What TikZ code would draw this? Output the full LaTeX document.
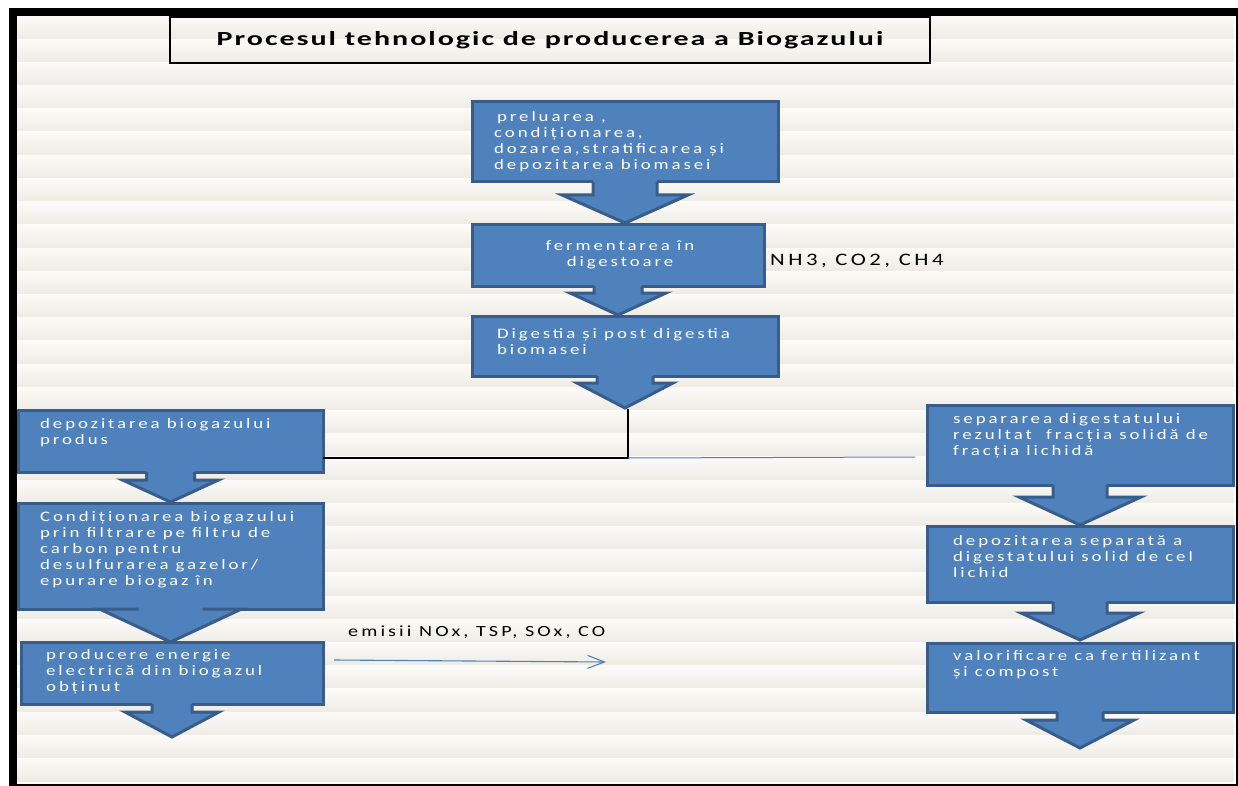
\documentclass[tikz,border=0pt]{standalone}
\usepackage{fontspec}
\setmainfont{Carlito}
\newfontfamily\boxfont[FakeStretch=1.3,LetterSpace=20]{Carlito}
\newfontfamily\titlefont[FakeStretch=1.5,LetterSpace=10]{Carlito}
\usetikzlibrary{arrows.meta}

\definecolor{boxblue}{HTML}{4F81BD}
\definecolor{boxedge}{HTML}{385D8A}
\definecolor{stripetop}{HTML}{FCFBF9}
\definecolor{stripebot}{HTML}{EDEBE3}

% arrow under a box: node, shaft half width, wing half width, shaft length, head length
\newcommand{\flowtip}[5]{%
  \fill[boxblue] ([shift={(-#2,-2)}]#1.south) -- ++(0,#4+2) -- ++(#2-#3,0)
    -- ([shift={(0,#4+#5)}]#1.south) -- ([shift={(#3,#4)}]#1.south)
    -- ++(#2-#3,0) -- ++(0,-#4-2) -- cycle;
  \draw[boxedge,line width=3pt] ([shift={(-#2,0)}]#1.south) -- ++(0,#4) -- ++(#2-#3,0)
    -- ([shift={(0,#4+#5)}]#1.south) -- ([shift={(#3,#4)}]#1.south)
    -- ++(#2-#3,0) -- ++(0,-#4);}

\begin{document}
\begin{tikzpicture}[x=1pt,y=-1pt,
  flowbox/.style={draw=boxedge,fill=boxblue,line width=3pt,outer sep=0pt,inner sep=0pt,anchor=north west},
  boxtext/.style={text=white,font={\boxfont\fontsize{14.5pt}{16pt}\selectfont},align=left,inner sep=0pt,anchor=west},
  gastext/.style={text=black,inner sep=0pt,anchor=west}]

\useasboundingbox (0,0) rectangle (1238,786);

% background stripes
\foreach \k in {0,...,32}
  \shade[top color=stripetop,bottom color=stripebot] (17,{16+23.2*\k}) rectangle (1234,{16+23.2*(\k+1)});

\draw[line width=8pt] (13,12) rectangle (1240,788);

\node[draw,line width=1.5pt,outer sep=0pt,anchor=north west,minimum width=760pt,minimum height=46pt,
  font={\titlefont\bfseries\fontsize{20pt}{22pt}\selectfont}] (title) at (170,17) {Procesul tehnologic de producerea a Biogazului};

% middle column
\node[flowbox,minimum width=306pt,minimum height=80pt] (prel) at (472,102) {};
\node[flowbox,minimum width=292pt,minimum height=61pt] (ferm) at (472,225) {};
\node[flowbox,minimum width=306pt,minimum height=60pt] (dig) at (472,316) {};
\flowtip{prel}{32}{63}{13}{28}
\flowtip{ferm}{24}{48}{7}{22}
\flowtip{dig}{28}{48}{7}{25}

\node[boxtext] (prelt) at (494,142) {\hspace{3pt}preluarea ,\\condiționarea,\\dozarea,stratificarea și\\depozitarea biomasei};
\node[boxtext,align=center,anchor=center] (fermt) at (620,255) {fermentarea în\\digestoare};
\node[boxtext] (digt) at (497,342) {Digestia și post digestia\\biomasei};

% left column
\node[flowbox,minimum width=305pt,minimum height=62pt] (depb) at (18,410) {};
\node[flowbox,minimum width=305pt,minimum height=106pt] (cond) at (18,503) {};
\node[flowbox,minimum width=302pt,minimum height=62pt] (prod) at (21,642) {};
\flowtip{depb}{24}{48}{8}{22}
\flowtip{cond}{32}{71}{0}{33}
\flowtip{prod}{20}{47}{8}{25}

\node[boxtext] (depbt) at (40,433) {depozitarea biogazului\\produs};
\node[boxtext] (condt) at (40,550) {Condiționarea biogazului\\prin filtrare pe filtru de\\carbon pentru\\desulfurarea gazelor/\\epurare biogaz în};
\node[boxtext] (prodt) at (46,672) {producere energie\\electrică din biogazul\\obținut};

% right column
\node[flowbox,minimum width=306pt,minimum height=80pt] (sep) at (927,405) {};
\node[flowbox,minimum width=306pt,minimum height=76pt] (deps) at (927,526) {};
\node[flowbox,minimum width=306pt,minimum height=69pt] (val) at (927,643) {};
\flowtip{sep}{27}{61}{12}{28}
\flowtip{deps}{27}{59}{11}{27}
\flowtip{val}{23}{54}{8}{28}

\node[boxtext] (sept) at (953,436) {separarea digestatului\\rezultat \ fracția solidă de\\fracția lichidă};
\node[boxtext] (depst) at (953,557) {depozitarea separată a\\digestatului solid de cel\\lichid};
\node[boxtext] (valt) at (953,665) {valorificare ca fertilizant\\și compost};

% labels
\node[gastext,font={\boxfont\fontsize{17.5pt}{19pt}\selectfont}] (gases) at (770,261) {NH3, CO2, CH4};
\node[gastext,font={\boxfont\fontsize{15.5pt}{17pt}\selectfont}] (emis) at (348,632) {emisii NOx, TSP, SOx, CO};

% connectors
\coordinate (digtip) at (628,409);
\coordinate (split) at (628,458);
\coordinate (sepin) at (915,457);
\draw[line width=1.3pt] (digtip) -- (split) -- (split -| depb.east);
\draw[boxblue,line width=1pt] (split) -- (sepin);

\coordinate (emstart) at (334,660);
\coordinate (emend) at (606,662);
\draw[boxblue,line width=1.1pt,-{Straight Barb[length=17pt,width=13pt]}] (emstart) -- (emend);

\end{tikzpicture}
\end{document}
